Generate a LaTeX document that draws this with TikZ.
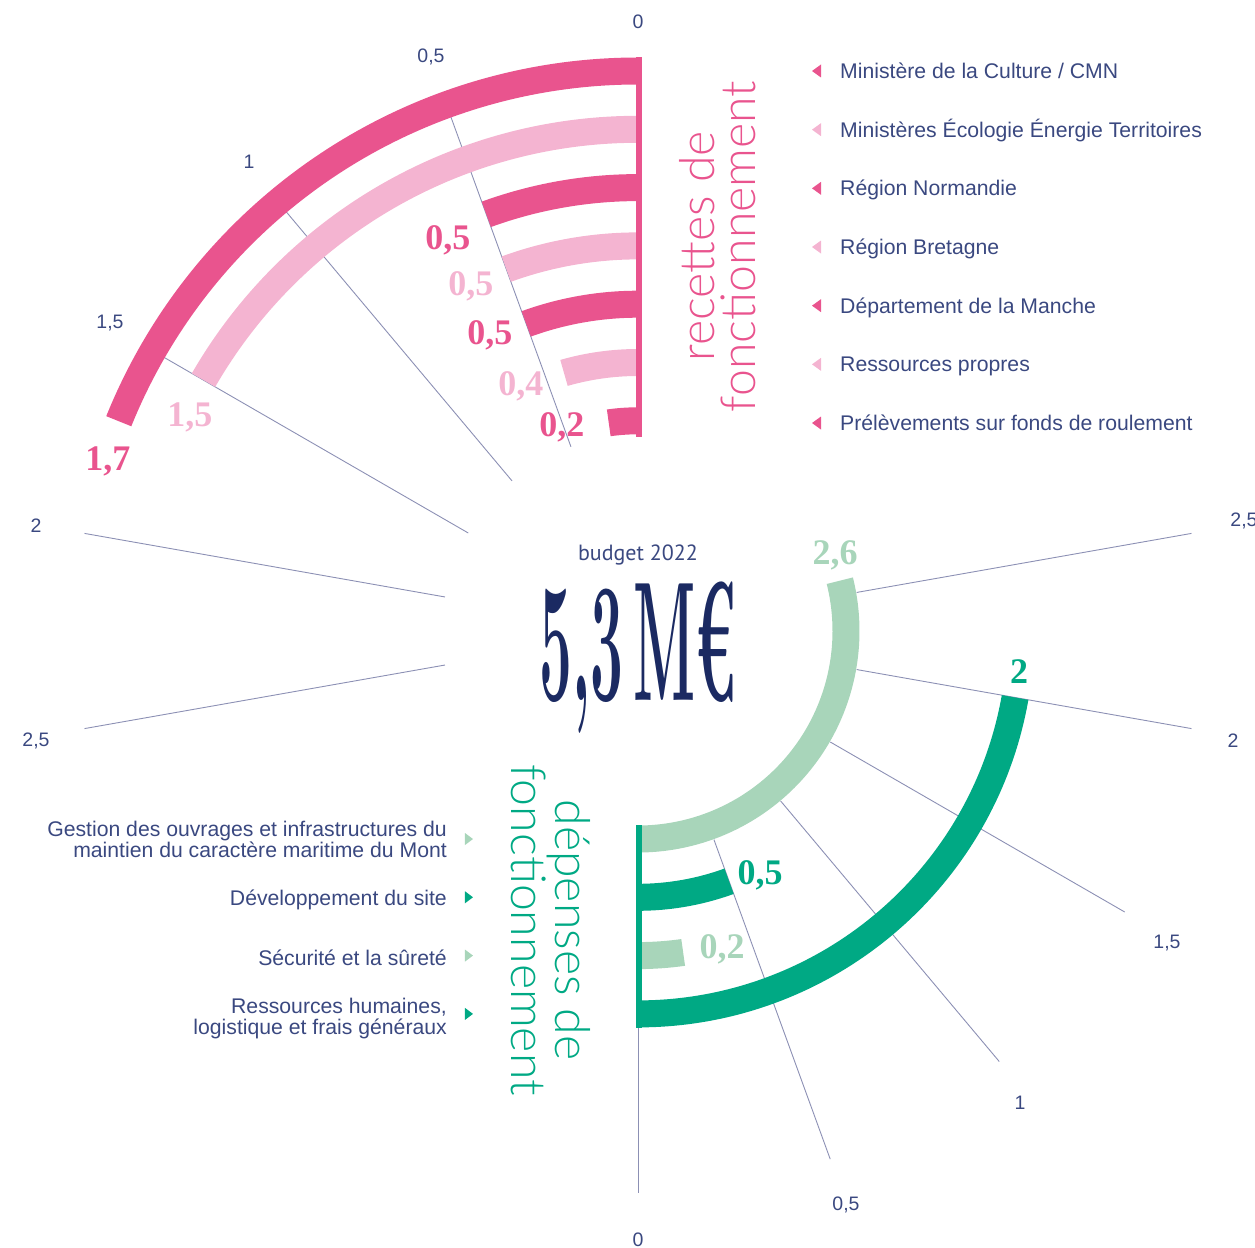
\documentclass[tikz,border=0pt]{standalone}
\usepackage{fontspec}
\newfontfamily\legendfont{Liberation Sans}
\newfontfamily\valfont{Liberation Serif}
\newfontfamily\budgetfont{PT Sans}
\IfFontExistsTF{Lato Light}{\newfontfamily\titrefont{Lato Light}}{\newfontfamily\titrefont{Liberation Sans}}
\definecolor{rosefonce}{HTML}{E9548E}
\definecolor{roseclair}{HTML}{F4B4D1}
\definecolor{vertclair}{HTML}{A8D5BA}
\definecolor{vertfonce}{HTML}{00A984}
\definecolor{marine}{HTML}{1B2A62}
\definecolor{textecol}{HTML}{3A4880}
\definecolor{grillecol}{HTML}{8C90B4}
\tikzset{
  axe/.style={grillecol, line width=0.9pt},
  graduation/.style={font=\legendfont\fontsize{19.5}{20}\selectfont, text=textecol},
  valeur/.style={font=\valfont\bfseries\fontsize{36}{36}\selectfont},
  legende/.style={font=\legendfont\fontsize{21.2}{21}\selectfont, text=textecol, inner sep=0pt},
  titre/.style={font=\titrefont\fontsize{48.2}{41}\selectfont, align=center}
}
\begin{document}
\begin{tikzpicture}[x=1pt,y=1pt]
  \useasboundingbox (-638,-616) rectangle (617,631);
  \foreach \i/\t/\hx/\hy/\bx/\by in {0/0/0/609/0/-609, 1/{0,5}/-207/574/208/-574, 2/1/-389/469/382/-472,
      3/{1,5}/-528/308/529/-312, 4/2/-602/105/595/-110, 5/{2,5}/-602/-110/606/110}{
    \draw[axe] (90+20*\i:196) -- (90+20*\i:562);
    \node[graduation] (gh\i) at (\hx,\hy) {\t};
    \draw[axe] (-90+20*\i:222) -- (-90+20*\i:562);
    \node[graduation] (gb\i) at (\bx,\by) {\t};
  }
  \foreach \r/\v/\c/\t/\lx/\ly/\n [count=\i] in {
      560/1.7/rosefonce/{Ministère de la Culture / CMN}/-530/170/{1,7},
      501.7/1.5/roseclair/{Ministères Écologie Énergie Territoires}/-448/214/{1,5},
      443.4/0.5/rosefonce/{Région Normandie}/-190/391/{0,5},
      385.1/0.5/roseclair/{Région Bretagne}/-167/345/{0,5},
      326.8/0.5/rosefonce/{Département de la Manche}/-148/296/{0,5},
      268.5/0.4/roseclair/{Ressources propres}/-117/245/{0,4},
      210.2/0.2/rosefonce/{Prélèvements sur fonds de roulement}/-76/204/{0,2}}{
    \pgfmathsetmacro{\e}{90+40*\v}
    \pgfmathsetmacro{\ro}{\r+13.5}
    \pgfmathsetmacro{\ri}{\r-13.5}
    \pgfmathsetmacro{\ty}{560-58.67*(\i-1)}
    \fill[\c] (90:\ro pt) arc[start angle=90, end angle=\e, radius=\ro pt] -- (\e:\ri pt) arc[start angle=\e, end angle=90, radius=\ri pt] -- cycle;
    \node[valeur, text=\c] (vr\i) at (\lx,\ly) {\n};
    \fill[\c] (174,\ty) -- (183,\ty+6.5) -- (183,\ty-6.5) -- cycle;
    \node[legende, anchor=base west] (lr\i) at (202,\ty-7.6) {\t};
  }
  \fill[rosefonce] (-2,194) rectangle (3.7,574);
  \foreach \r/\v/\c/\t/\dy/\lx/\ly/\n [count=\i] in {
      208/2.6/vertclair/{Gestion des ouvrages et infrastructures du\\maintien du caractère maritime du Mont}/0/197/76/{2,6},
      266.3/0.5/vertfonce/{Développement du site}/-3/122/-244/{0,5},
      324.6/0.2/vertclair/{Sécurité et la sûreté}/-2/84/-318/{0,2},
      382.9/2/vertfonce/{Ressources humaines,\\logistique et frais généraux}/-5/381/-41/{2}}{
    \pgfmathsetmacro{\e}{-90+40*\v}
    \pgfmathsetmacro{\ro}{\r+13.5}
    \pgfmathsetmacro{\ri}{\r-13.5}
    \fill[\c] (-90:\ro pt) arc[start angle=-90, end angle=\e, radius=\ro pt] -- (\e:\ri pt) arc[start angle=\e, end angle=-90, radius=\ri pt] -- cycle;
    \node[valeur, text=\c] (vd\i) at (\lx,\ly) {\n};
    \fill[\c] (-165,-\r) -- (-173,-\r+6) -- (-173,-\r-6) -- cycle;
    \node[legende, anchor=east, align=right] (ld\i) at (-191,-\r+\dy) {\t};
  }
  \fill[vertfonce] (-2,-194) rectangle (3.7,-397);
  \node[titre, text=rosefonce, rotate=90] (recettes) at (80,384.5) {recettes de\\fonctionnement};
  \node[titre, text=vertfonce, rotate=-90] (depenses) at (-87,-299) {dépenses de\\fonctionnement};
  \node[font=\budgetfont\fontsize{22}{22}\selectfont, text=textecol, inner sep=0pt] (budget) at (0,76) {budget 2022};
  \node[text=marine, anchor=base, inner sep=0pt] (montant) at (0,-69) {\scalebox{0.343}[1]{\fontsize{170}{170}\selectfont\bfseries 5,3\,M€}};
\end{tikzpicture}
\end{document}
